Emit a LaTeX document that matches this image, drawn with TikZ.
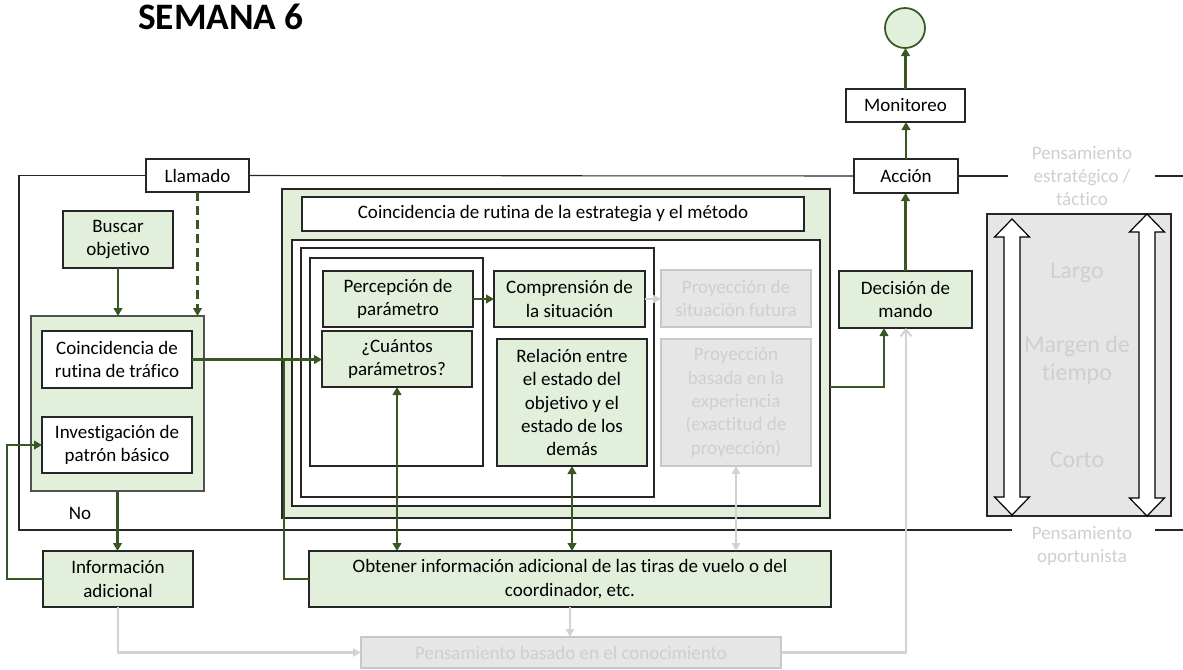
\documentclass[tikz,border=0pt]{standalone}
\usepackage{fontspec}
\setmainfont{Carlito}[Ligatures={NoCommon}]
\usetikzlibrary{arrows.meta,calc}
\definecolor{boxgreen}{RGB}{226,239,218}
\definecolor{linegreen}{RGB}{56,87,35}
\definecolor{boxgray}{RGB}{231,230,230}
\definecolor{fadetext}{RGB}{208,206,206}
\definecolor{fadeline}{RGB}{210,210,210}
\definecolor{fadeedge}{RGB}{200,200,200}
\definecolor{edge}{RGB}{38,38,38}

\begin{document}
\begin{tikzpicture}[x=0.75pt,y=-0.75pt,
  every node/.style={font=\fontsize{14.25}{17.5}\selectfont, align=center, inner sep=0pt, outer sep=0pt},
  sz/.style 2 args={minimum width=#1*0.75pt, minimum height=#2*0.75pt},
  whitebox/.style={draw=edge, line width=0.9pt, fill=white},
  greenbox/.style={draw=edge, line width=0.9pt, fill=boxgreen},
  graybox/.style={draw=fadeedge, line width=0.9pt, fill=boxgray, text=fadetext},
  frameline/.style={draw=edge, line width=0.8pt},
  gline/.style={draw=linegreen, line width=2.2pt},
  garrow/.style={gline, -{Triangle[width=6.5pt,length=6pt]}},
  gboth/.style={gline, {Triangle[width=6.5pt,length=6pt]}-{Triangle[width=6.5pt,length=6pt]}},
  fline/.style={draw=fadeline, line width=1.6pt},
  farrow/.style={fline, -{Triangle[width=6pt,length=6pt]}},
  fboth/.style={fline, {Triangle[width=6pt,length=6pt]}-{Triangle[width=6pt,length=6pt]}},
  fopen/.style={fline, -{Straight Barb[width=8pt,length=5pt]}},
  fadelabel/.style={text=fadetext},
  bigfade/.style={text=fadetext, font=\fontsize{18}{21}\selectfont}
]
\useasboundingbox (0,0) rectangle (1183,669);

% title
\node[font=\fontsize{28}{31}\selectfont\bfseries] (title) at (221,17) {SEMANA 6};

% nodes of the outer frame
\node[whitebox, sz={103}{33}] (call) at (197.5,175.5) {Llamado};
\node[whitebox, sz={104}{34}] (act) at (906,176) {Acción};
\node[whitebox, sz={119}{33}] (mon) at (905.5,105.5) {Monitoreo};
\node[circle, draw=linegreen, line width=1.3pt, fill=boxgreen, minimum size=30pt] (goal) at (905,28) {};

% frame lines
\coordinate (fl) at (19,530);
\coordinate (fr) at (1012,530);
\coordinate (tr) at (1008,176);
\coordinate (tra) at (1155,176);
\coordinate (trb) at (1183,176);
\coordinate (bra) at (1155,530);
\coordinate (brb) at (1183,530);
\draw[frameline] (call.west) -| (fl) -- (fr);
\draw[frameline] (call.east) -- (act.west);
\draw[frameline] (act.east) -- (tr);
\draw[frameline] (tra) -- (trb);
\draw[frameline] (bra) -- (brb);

% left column
\node[greenbox, sz={110}{57}] (seek) at (118,239.5) {Buscar\\objetivo};
\node[greenbox, draw=edge!80, sz={173}{175}] (left) at (117.5,403.5) {};
\node[whitebox, sz={150}{57}] (traffic) at (117,359.5) {Coincidencia de\\rutina de tráfico};
\node[whitebox, sz={150}{56}] (invest) at (117,445) {Investigación de\\patrón básico};
\node[greenbox, sz={150}{56}] (info) at (118,579) {Información\\adicional};
\node (no) at (80,513) {No};

% central block
\node[greenbox, sz={548}{329}] (outer) at (556,353.5) {};
\node[whitebox, sz={502}{34}] (strat) at (553,214) {Coincidencia de rutina de la estrategia y el método};
\node[whitebox, sz={528}{266}] (lvtwo) at (556,373) {};
\node[whitebox, sz={353}{249}] (lvthree) at (477.5,372.5) {};
\node[whitebox, sz={173}{208}] (lvfour) at (396.5,362) {};
\node[greenbox, sz={150}{56}] (percep) at (398,299) {Percepción de\\parámetro};
\node[greenbox, sz={150}{56}] (howmany) at (397,359) {¿Cuántos\\parámetros?};
\node[greenbox, sz={151}{56}] (compr) at (569.5,299) {Comprensión de\\la situación};
\node[greenbox, sz={150}{127}] (relac) at (572,402.5) {Relación entre\\el estado del\\objetivo y el\\estado de los\\demás};
\node[graybox, sz={150}{57}] (futproj) at (736,298.5) {Proyección de\\situación futura};
\node[graybox, sz={150}{127}] (expproj) at (736,402.5) {Proyección\\basada en la\\experiencia\\(exactitud de\\proyección)};

\node[greenbox, sz={133}{57}] (decide) at (905.5,299.5) {Decisión de\\mando};

% bottom row
\node[greenbox, sz={522}{56}] (obtain) at (570,579) {Obtener información adicional de las tiras de vuelo o del\\coordinador, etc.};
\node[graybox, sz={420}{31}] (kbase) at (571,652.5) {Pensamiento basado en el conocimiento};

% time margin panel
\draw[draw=edge, line width=0.9pt, fill=boxgray] (987,214) rectangle (1171,516);
\draw[draw=black, line width=0.9pt, fill=white]
  (1012,219) -- (1029.5,237) -- (1020,237) -- (1020,497) -- (1029.5,497) -- (1012,515)
  -- (994.5,497) -- (1004,497) -- (1004,237) -- (994.5,237) -- cycle;
\draw[draw=black, line width=0.9pt, fill=white]
  (1147,214) -- (1164.5,232) -- (1155,232) -- (1155,498) -- (1164.5,498) -- (1147,516)
  -- (1129.5,498) -- (1139,498) -- (1139,232) -- (1129.5,232) -- cycle;
\node[bigfade] (long) at (1077,273) {Largo};
\node[bigfade] (margin) at (1077,360) {Margen de\\tiempo};
\node[bigfade] (short) at (1077,460) {Corto};
\node[fadelabel] (strategic) at (1082,176) {Pensamiento\\estratégico /\\táctico};
\node[fadelabel] (opport) at (1082,546) {Pensamiento\\oportunista};

% connectors
\coordinate (junc) at (284,359.5);
\draw[garrow] (seek.south) -- (seek.south |- left.north);
\draw[garrow, dash pattern=on 6.5pt off 4pt] (call.south) -- (call.south |- left.north);
\draw[gline] (obtain.west) -| (junc);
\draw[garrow] (traffic.east) -- (traffic.east -| howmany.west);
\draw[gboth] (howmany.south) -- (howmany.south |- obtain.north);
\draw[garrow] (percep.east) -- (percep.east -| compr.west);
\draw[farrow] (compr.east) -- (compr.east -| futproj.west);
\draw[gboth] (relac.south) -- (relac.south |- obtain.north);
\draw[fboth] (expproj.south) -- (expproj.south |- obtain.north);
\draw[garrow] ($(outer.east)+(0,33.5)$) -| ($(decide.south)+(-21.5,0)$);
\draw[garrow] (decide.north) -- (decide.north |- act.south);
\draw[garrow] (act.north) -- (act.north |- mon.south);
\draw[garrow] (mon.north) -- (mon.north |- goal.south);
\draw[garrow] (left.south) -- (left.south |- info.north);
\draw[garrow] (info.west) -- ++(-36,0) |- (invest.west);
\draw[farrow] (info.south) |- (kbase.west);
\draw[farrow] (obtain.south) -- (obtain.south |- kbase.north);
\draw[fopen] (kbase.east) -| ($(decide.south)+(0.5,0)$);
\end{tikzpicture}
\end{document}
